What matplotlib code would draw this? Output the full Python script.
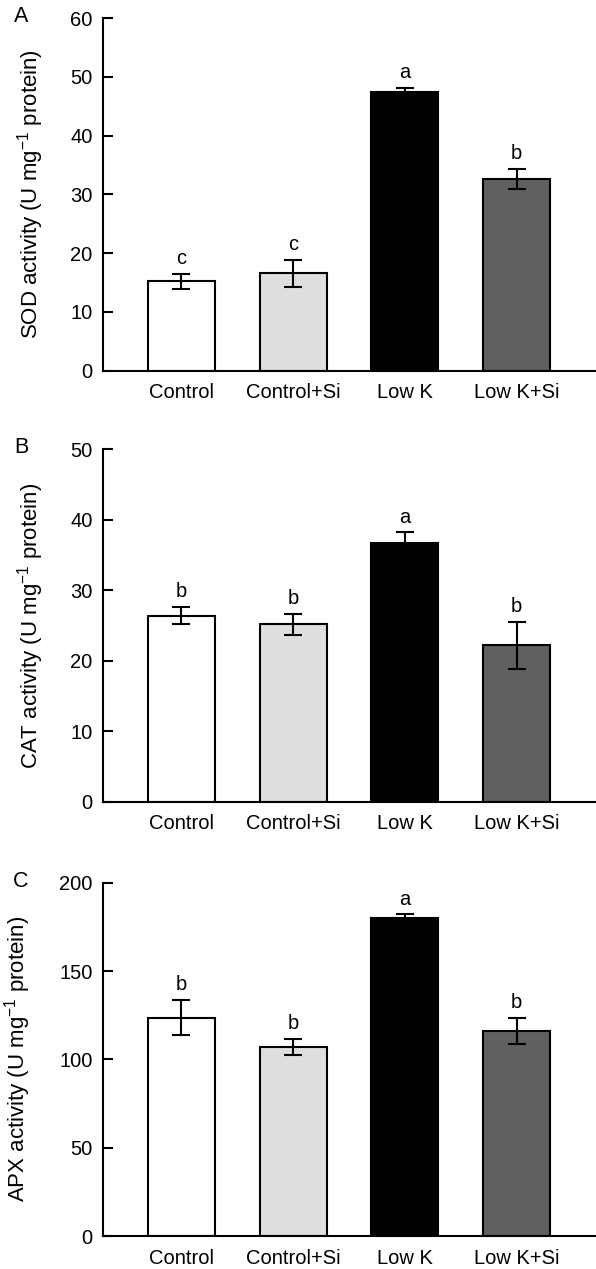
import matplotlib
matplotlib.use("Agg")
import matplotlib.pyplot as plt
import numpy as np

categories = ["Control", "Control+Si", "Low K", "Low K+Si"]
bar_colors = ["#ffffff", "#dedede", "#000000", "#606060"]

sod_values = [15.2, 16.6, 47.4, 32.6]
sod_errors = [1.25, 2.3, 0.7, 1.7]
sod_letters = ["c", "c", "a", "b"]

cat_values = [26.4, 25.2, 36.7, 22.2]
cat_errors = [1.25, 1.5, 1.5, 3.35]
cat_letters = ["b", "b", "a", "b"]

apx_values = [123.6, 107.2, 180.1, 116.1]
apx_errors = [10.0, 4.5, 2.0, 7.5]
apx_letters = ["b", "b", "a", "b"]

plt.rcParams['font.family'] = ['Liberation Sans', 'DejaVu Sans']
plt.rcParams['mathtext.fontset'] = 'custom'
plt.rcParams['mathtext.rm'] = 'Liberation Sans'
plt.rcParams['mathtext.it'] = 'Liberation Sans'
plt.rcParams['mathtext.bf'] = 'Liberation Sans'

W, H = 596, 1269
fig = plt.figure(figsize=(W / 100, H / 100), dpi=100)

left_px = 103
panels = [
    dict(top=18.0, bottom=370.7, vals=sod_values, errs=sod_errors, letters=sod_letters,
         ylim=(0, 60), ticks=np.arange(0, 61, 10), label="SOD activity (U mg$^{-1}$ protein)",
         panel="A", labx=-0.1156),
    dict(top=449.3, bottom=801.7, vals=cat_values, errs=cat_errors, letters=cat_letters,
         ylim=(0, 50), ticks=np.arange(0, 51, 10), label="CAT activity (U mg$^{-1}$ protein)",
         panel="B", labx=-0.1156),
    dict(top=882.7, bottom=1236.0, vals=apx_values, errs=apx_errors, letters=apx_letters,
         ylim=(0, 200), ticks=np.arange(0, 201, 50), label="APX activity (U mg$^{-1}$ protein)",
         panel="C", labx=-0.142),
]

x = np.arange(len(categories))
for p in panels:
    ax = fig.add_axes([left_px / W, 1 - p["bottom"] / H, 1 - left_px / W,
                       (p["bottom"] - p["top"]) / H])
    ax.bar(x, p["vals"], width=0.6, color=bar_colors, edgecolor="black",
           linewidth=1.5, zorder=2)
    ax.errorbar(x, p["vals"], yerr=p["errs"], fmt="none", ecolor="black",
                elinewidth=1.5, capsize=6.5, capthick=1.5, zorder=3)
    for xi, v, e, l in zip(x, p["vals"], p["errs"], p["letters"]):
        ax.annotate(l, (xi, v + e), xytext=(0, 7), textcoords="offset points",
                    ha="center", va="baseline", fontsize=14.5)
    ax.set_xlim(-0.7, 3.71)
    ax.set_ylim(*p["ylim"])
    ax.set_yticks(p["ticks"])
    ax.set_xticks(x)
    ax.set_xticklabels(categories)
    ax.tick_params(axis="y", direction="in", length=7.2, width=1.5, pad=7.5, labelsize=14.5)
    ax.tick_params(axis="x", length=0, pad=9, labelsize=14.5)
    for s in ["top", "right"]:
        ax.spines[s].set_visible(False)
    for s in ["left", "bottom"]:
        ax.spines[s].set_linewidth(1.5)
    ax.set_ylabel(p["label"], fontsize=16)
    ax.yaxis.set_label_coords(p["labx"], 0.5)
    fig.text(21 / W, 1 - (p["top"] - 1.5) / H, p["panel"], fontsize=15.5,
             ha="center", va="center")

fig.savefig("out.png", dpi=100)
